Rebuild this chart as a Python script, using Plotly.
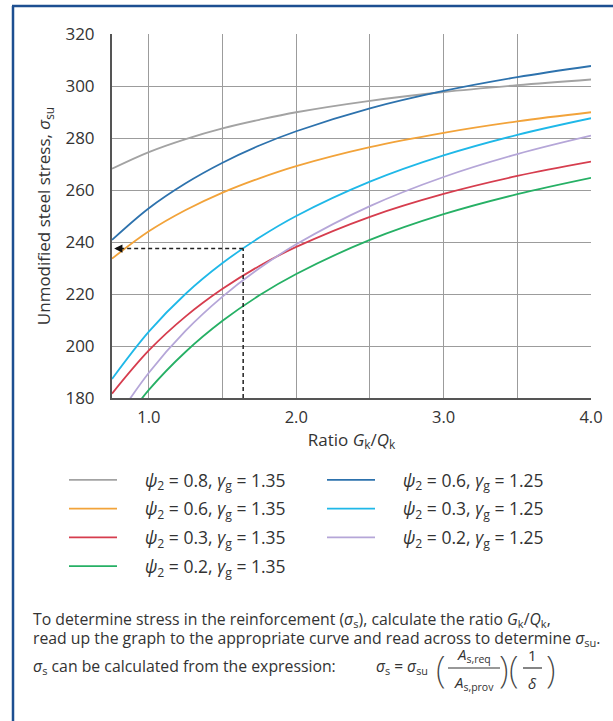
import plotly.graph_objects as go

# ---------------- data ----------------
ratio = [0.75, 1.0, 1.25, 1.5, 1.75, 2.0, 2.5, 3.0, 3.5, 4.0]

s_08_135 = [268.2, 274.6, 279.6, 283.7, 287.0, 289.9, 294.3, 297.7, 300.3, 302.5]
s_06_135 = [233.6, 244.1, 252.3, 259.0, 264.5, 269.2, 276.5, 282.0, 286.4, 289.9]
s_03_135 = [181.7, 198.3, 211.4, 222.0, 230.8, 238.1, 249.7, 258.5, 265.4, 270.9]
s_02_135 = [164.4, 183.1, 197.8, 209.7, 219.5, 227.7, 240.8, 250.7, 258.4, 264.7]
s_06_125 = [240.8, 253.0, 262.6, 270.5, 277.1, 282.6, 291.4, 298.1, 303.4, 307.7]
s_03_125 = [187.3, 205.5, 220.1, 231.9, 241.7, 250.0, 263.2, 273.3, 281.2, 287.6]
s_02_125 = [169.5, 189.7, 205.9, 219.0, 229.9, 239.1, 253.8, 265.0, 273.8, 280.9]

series_names = [
    "<i>ψ</i><sub>2</sub> = 0.8, <i>γ</i><sub>g</sub> = 1.35",
    "<i>ψ</i><sub>2</sub> = 0.6, <i>γ</i><sub>g</sub> = 1.35",
    "<i>ψ</i><sub>2</sub> = 0.3, <i>γ</i><sub>g</sub> = 1.35",
    "<i>ψ</i><sub>2</sub> = 0.2, <i>γ</i><sub>g</sub> = 1.35",
    "<i>ψ</i><sub>2</sub> = 0.6, <i>γ</i><sub>g</sub> = 1.25",
    "<i>ψ</i><sub>2</sub> = 0.3, <i>γ</i><sub>g</sub> = 1.25",
    "<i>ψ</i><sub>2</sub> = 0.2, <i>γ</i><sub>g</sub> = 1.25",
]
series_values = [s_08_135, s_06_135, s_03_135, s_02_135, s_06_125, s_03_125, s_02_125]

x_tick_vals = [1.0, 1.5, 2.0, 2.5, 3.0, 3.5, 4.0]
x_tick_text = ["1.0", "", "2.0", "", "3.0", "", "4.0"]
y_tick_vals = [180, 200, 220, 240, 260, 280, 300, 320]

# worked example
example_ratio = 1.64
example_stress = 237.5

# ---------------- styling ----------------
colors = ["#a3a3a3", "#f2a33a", "#d63d4e", "#26b065", "#2d72ad", "#1fb8e8", "#b5a6d8"]
legend_ids = ["legend", "legend", "legend", "legend", "legend2", "legend2", "legend2"]
FONT = "Open Sans"
TXT = "#333333"
GAP = "\u00a0" * 5

W, H = 613, 721
PL, PR, PT, PB = 112, 591, 34, 398


def px(x):
    return (x - PL) / (PR - PL)


def py(y):
    return (PB - y) / (PB - PT)


fig = go.Figure()
for i, (name, vals) in enumerate(zip(series_names, series_values)):
    fig.add_trace(go.Scatter(
        x=ratio, y=vals, name=GAP + name, mode="lines",
        line=dict(color=colors[i], width=1.8, shape="spline", smoothing=1.0),
        legend=legend_ids[i], legendgroup="g%d" % i,
        hoverinfo="skip",
    ))

# dashed reading lines
fig.add_shape(type="line", xref="x", yref="y", x0=example_ratio, x1=example_ratio,
              y0=180, y1=example_stress, line=dict(color="#222", width=1.5, dash="4px,3px"))
fig.add_shape(type="line", xref="x", yref="y", x0=example_ratio, x1=0.79,
              y0=example_stress, y1=example_stress, line=dict(color="#222", width=1.5, dash="4px,3px"))
fig.add_annotation(x=0.765, y=example_stress, ax=0.83, ay=example_stress, xref="x", yref="y",
                   axref="x", ayref="y", text="", showarrow=True, arrowhead=2, arrowsize=1.1,
                   arrowwidth=1.5, arrowcolor="#111")

# frame
fig.add_shape(type="line", xref="paper", yref="paper", x0=px(13), x1=px(13), y0=py(6), y1=py(725),
              line=dict(color="#1d4f91", width=2.5))
fig.add_shape(type="line", xref="paper", yref="paper", x0=px(12), x1=px(620), y0=py(6), y1=py(6),
              line=dict(color="#1d4f91", width=2.5))

# explanatory text
para = [
    ("To determine stress in the reinforcement (<i>σ</i><sub>s</sub>), calculate the ratio "
     "<i>G</i><sub>k</sub>/<i>Q</i><sub>k</sub>,", 619),
    ("read up the graph to the appropriate curve and read across to determine <i>σ</i><sub>su</sub>.", 638),
    ("<i>σ</i><sub>s</sub> can be calculated from the expression:", 666),
]
for t, yy in para:
    fig.add_annotation(x=px(31), y=py(yy), xref="paper", yref="paper", text=t, showarrow=False,
                       xanchor="left", yanchor="middle", font=dict(family=FONT, size=15.8, color=TXT))

fig.add_annotation(x=px(374), y=py(666), xref="paper", yref="paper",
                   text="<i>σ</i><sub>s</sub> = <i>σ</i><sub>su</sub>", showarrow=False,
                   xanchor="left", yanchor="middle", font=dict(family=FONT, size=15.5, color=TXT))
for t, xx in [("(", 441), (")", 504), ("(", 514), (")", 551)]:
    fig.add_annotation(x=px(xx), y=py(668), xref="paper", yref="paper", text=t, showarrow=False,
                       xanchor="center", yanchor="middle",
                       font=dict(family="Noto Sans", weight=200, size=36, color="#444"))
for t, xx, yy in [("<i>A</i><sub>s,req</sub>", 474, 655), ("<i>A</i><sub>s,prov</sub>", 474, 683),
                  ("1", 532, 655), ("<i>δ</i>", 532, 683)]:
    fig.add_annotation(x=px(xx), y=py(yy), xref="paper", yref="paper", text=t, showarrow=False,
                       xanchor="center", yanchor="middle", font=dict(family=FONT, size=15, color=TXT))
fig.add_shape(type="line", xref="paper", yref="paper", x0=px(448), x1=px(500), y0=py(668), y1=py(668),
              line=dict(color=TXT, width=1.2))
fig.add_shape(type="line", xref="paper", yref="paper", x0=px(523), x1=px(542), y0=py(668), y1=py(668),
              line=dict(color=TXT, width=1.2))

legend_common = dict(
    orientation="v", traceorder="grouped", tracegroupgap=3, itemwidth=48,
    bgcolor="rgba(0,0,0,0)", font=dict(family=FONT, size=17.5, color=TXT),
    yanchor="top", xanchor="left",
)

fig.update_layout(
    width=W, height=H,
    margin=dict(l=PL, r=W - PR, t=PT, b=H - PB, autoexpand=False),
    paper_bgcolor="white", plot_bgcolor="white",
    font=dict(family=FONT, size=14, color=TXT),
    showlegend=True,
    legend=dict(x=px(64), y=py(462), **legend_common),
    legend2=dict(x=px(322), y=py(462), **legend_common),
    xaxis=dict(
        range=[0.75, 4.0], tickvals=x_tick_vals, ticktext=x_tick_text,
        showgrid=True, gridcolor="#9c9c9c", gridwidth=1,
        showline=True, linecolor="#555", linewidth=2, ticks="", zeroline=False,
        tickfont=dict(family=FONT, size=16.5, color=TXT), ticklabelstandoff=3,
        title=dict(text="Ratio <i>G</i><sub>k</sub>/<i>Q</i><sub>k</sub>", standoff=4,
                   font=dict(family=FONT, size=17, color=TXT)),
    ),
    yaxis=dict(
        range=[180, 320], tickvals=y_tick_vals,
        showgrid=True, gridcolor="#9c9c9c", gridwidth=1,
        showline=True, linecolor="#555", linewidth=2, ticks="", zeroline=False,
        tickfont=dict(family=FONT, size=17, color=TXT), ticklabelstandoff=12,
        title=dict(text="Unmodified steel stress, <i>σ</i><sub>su</sub>", standoff=10,
                   font=dict(family=FONT, size=17, color=TXT)),
    ),
)

fig.write_html("out.html", config={"displayModeBar": False},
               post_script="document.body.style.margin='0';")
